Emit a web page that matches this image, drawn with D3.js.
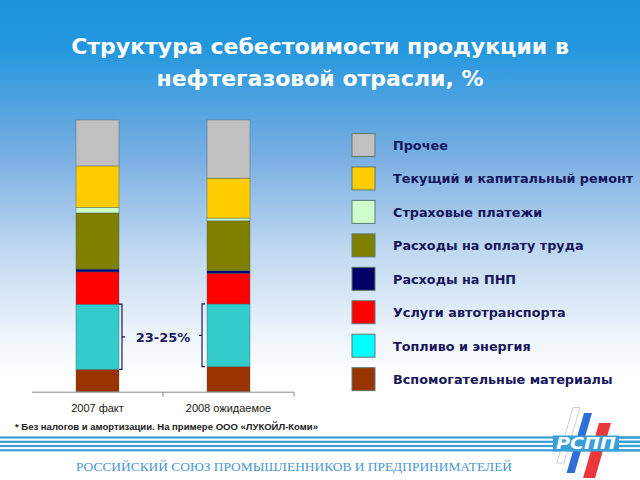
<!DOCTYPE html>
<html><head><meta charset="utf-8">
<script src="https://cdn.jsdelivr.net/npm/d3@7"></script>
<style>body{margin:0;padding:0;overflow:hidden}svg{display:block}</style>
</head><body>
<svg id="c" width="640" height="480"></svg>
<script>
// ---- data ----
const categories = ["2007 факт", "2008 ожидаемое"];
// stack order bottom -> top
const seriesNames = ["Вспомогательные материалы","Топливо и энергия","Услуги автотранспорта","Расходы на ПНП","Расходы на оплату труда","Страховые платежи","Текущий и капитальный ремонт","Прочее"];
const values2007 = [8.2, 24.0, 11.9, 1.0, 20.7, 2.0, 15.3, 16.9];
const values2008 = [9.2, 23.1, 11.3, 0.9, 18.4, 1.0, 14.7, 21.4];
const barColors = ["#993300","#33CCCC","#FF0000","#000080","#808000","#CCFFCC","#FFCC00","#C0C0C0"];
const swatchColors = ["#993300","#00FFFF","#FF0000","#000066","#808000","#CCFFCC","#FFCC00","#C0C0C0"];
const titleLines = ["Структура себестоимости продукции в", "нефтегазовой отрасли, %"];
const bracketLabel = "23-25%";
const footnote = "* Без налогов и амортизации. На примере ООО «ЛУКОЙЛ-Коми»";
const footerText = "РОССИЙСКИЙ СОЮЗ ПРОМЫШЛЕННИКОВ И ПРЕДПРИНИМАТЕЛЕЙ";
const logoText = "РСПП";

const svg = d3.select("#c");
const defs = svg.append("defs");
const grad = defs.append("linearGradient").attr("id","bg").attr("x1",0).attr("y1",0).attr("x2",0).attr("y2",1);
[[0,"#1c92dc"],[0.1,"#2497de"],[0.33,"#7aafe2"],[0.52,"#bfd8f0"],[0.68,"#e9f1fa"],[0.78,"#ffffff"],[1,"#ffffff"]]
  .forEach(([o,c])=>grad.append("stop").attr("offset",o).attr("stop-color",c));
svg.append("rect").attr("width",640).attr("height",480).attr("fill","url(#bg)");

// title
svg.append("g").selectAll("text").data(titleLines).join("text")
  .attr("x",320).attr("y",(d,i)=>54+i*32).attr("text-anchor","middle")
  .attr("font-family","DejaVu Sans, Verdana, sans-serif").attr("font-weight","bold")
  .attr("font-size",22).attr("fill","#ffffff").text(d=>d);

// scales
const x = d3.scaleBand().domain(categories).range([32,294]).paddingInner(0.672).paddingOuter(0.336);
const y = d3.scaleLinear().domain([0,100]).range([391.7,120]);
const table = categories.map((c,i)=>{
  const o = {cat:c};
  seriesNames.forEach((s,j)=>o[s] = (i===0?values2007:values2008)[j]);
  return o;
});
const stack = d3.stack().keys(seriesNames)(table);

const g = svg.append("g");
g.selectAll("g.s").data(stack).join("g").attr("class","s")
  .attr("fill",(d,i)=>barColors[i])
  .selectAll("rect").data(d=>d).join("rect")
  .attr("x",d=>x(d.data.cat)).attr("width",x.bandwidth())
  .attr("y",d=>y(d[1])).attr("height",d=>y(d[0])-y(d[1]))
  .attr("stroke","#3a4a5a").attr("stroke-width",0.6).attr("stroke-opacity",0.6);

// axis
const axis = d3.axisBottom(x).tickSize(0).tickPadding(0);
const ax = svg.append("g").attr("transform",`translate(0,${y(0)})`).call(axis);
ax.select(".domain").attr("stroke","#8a8a8a").attr("d","M32,0.5H294");
ax.selectAll(".tick text").attr("y",13).attr("font-family","Liberation Sans, Arial, sans-serif")
  .attr("font-size",11).attr("fill","#222");
const step = x.step();
const bounds = [x(categories[0]) + x.bandwidth() + step*x.paddingInner()/2, 294];
ax.selectAll("line.b").data(bounds).join("line").attr("class","b")
  .attr("x1",d=>d).attr("x2",d=>d).attr("y1",0).attr("y2",5).attr("stroke","#8a8a8a");

// brackets around fuel segment
const fuel = stack[1];
const b0 = fuel[0], b1 = fuel[1];
const navy = "#1b1b5e";
const lx = x(categories[0]) + x.bandwidth() + 3;
const rx = x(categories[1]) - 5;
const br = svg.append("g").attr("fill","none").attr("stroke",navy).attr("stroke-width",1.2);
br.append("path").attr("d",`M${lx-3},${y(b0[1])}H${lx}V${y(b0[0])}H${lx-3}M${lx},${(y(b0[1])+y(b0[0]))/2}h3`);
br.append("path").attr("d",`M${rx+3},${y(b1[1])}H${rx}V${y(b1[0])}H${rx+3}M${rx},${(y(b1[1])+y(b1[0]))/2}h-3`);
svg.append("text").attr("x",(lx+rx)/2+1).attr("y",(y(b0[1])+y(b0[0]))/2+5).attr("text-anchor","middle")
  .attr("font-family","DejaVu Sans, Verdana, sans-serif").attr("font-weight","bold").attr("font-size",13)
  .attr("fill",navy).text(bracketLabel);

// legend (top to bottom = reverse stack order)
const legendIdx = d3.range(seriesNames.length).reverse();
const lg = svg.append("g").selectAll("g").data(legendIdx).join("g")
  .attr("transform",(d,i)=>`translate(352,${133.5+i*33.45})`);
lg.append("rect").attr("width",23).attr("height",23).attr("fill",d=>swatchColors[d])
  .attr("stroke","#5d7a70").attr("stroke-width",1);
lg.append("text").attr("x",41).attr("y",16.5).attr("font-family","DejaVu Sans, Verdana, sans-serif")
  .attr("font-weight","bold").attr("font-size",12.8).attr("fill","#16165a").text(d=>seriesNames[d]);

// footnote
svg.append("text").attr("x",15).attr("y",430).attr("font-family","Liberation Sans, Arial, sans-serif")
  .attr("font-weight","bold").attr("font-size",9).attr("fill","#222")
  .attr("textLength",303).attr("lengthAdjust","spacingAndGlyphs").text(footnote);

// footer stripes
const stripeY = [437.5, 441.8, 446, 450.3];
svg.append("g").selectAll("rect").data(stripeY).join("rect")
  .attr("x",0).attr("width",640).attr("y",d=>d-1.1).attr("height",2.2).attr("fill","#3a9fd8");

// logo
const logo = svg.append("g");
const slope = 0.29;
function para(xt, yt, w, yb){ const dx=(yb-yt)*slope; return `M${xt},${yt}H${xt+w}L${xt+w-dx},${yb}H${xt-dx}Z`; }
logo.append("path").attr("d",para(573,407.5,7,463)).attr("fill","#ffffff").attr("stroke","#b8c4d0").attr("stroke-width",0.8);
logo.append("path").attr("d",para(584,413,8,473)).attr("fill","#2f6fd8");
logo.append("path").attr("d",para(599,423,12,478)).attr("fill","#e8383a");
logo.append("rect").attr("x",553).attr("y",435.5).attr("width",66).attr("height",16).attr("fill","#3a9fd8");
logo.append("text").attr("x",586).attr("y",449).attr("text-anchor","middle")
  .attr("font-family","DejaVu Sans, sans-serif").attr("font-weight","bold").attr("font-style","italic")
  .attr("font-size",15).attr("fill","#ffffff").attr("textLength",60).attr("lengthAdjust","spacingAndGlyphs").text(logoText);
logo.selectAll("rect.s2").data(stripeY).join("rect").attr("class","s2")
  .attr("x",619).attr("width",21).attr("y",d=>d-1.1).attr("height",2.2).attr("fill","#3a9fd8");

// footer text
svg.append("text").attr("x",76).attr("y",471).attr("font-family","Liberation Serif, Times New Roman, serif")
  .attr("font-size",13).attr("fill","#4a98cf").attr("textLength",436).attr("lengthAdjust","spacingAndGlyphs").text(footerText);
</script>
</body></html>
